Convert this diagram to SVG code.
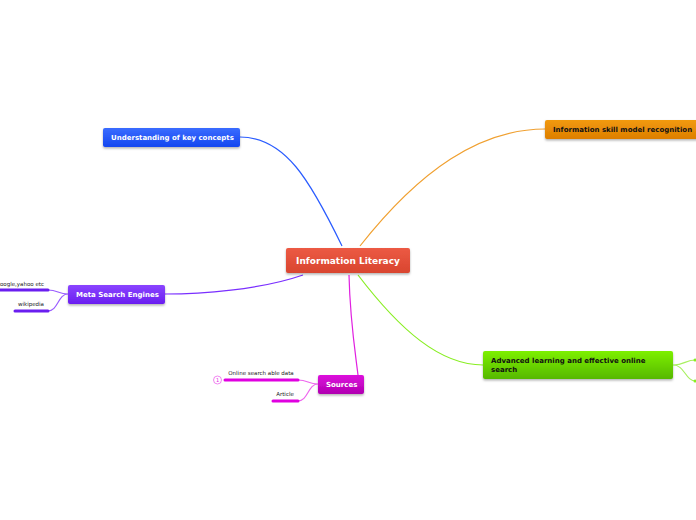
<svg xmlns="http://www.w3.org/2000/svg" width="696" height="520" viewBox="0 0 696 520">
<defs>
<linearGradient id="gRed" x1="0" y1="0" x2="0" y2="1"><stop offset="0" stop-color="#ec5a44"/><stop offset="1" stop-color="#d9452f"/></linearGradient>
<linearGradient id="gBlue" x1="0" y1="0" x2="0" y2="1"><stop offset="0" stop-color="#3a6cff"/><stop offset="1" stop-color="#1446f0"/></linearGradient>
<linearGradient id="gOrange" x1="0" y1="0" x2="0" y2="1"><stop offset="0" stop-color="#f29a10"/><stop offset="1" stop-color="#dd7e00"/></linearGradient>
<linearGradient id="gPurple" x1="0" y1="0" x2="0" y2="1"><stop offset="0" stop-color="#8a44ff"/><stop offset="1" stop-color="#6a1ef0"/></linearGradient>
<linearGradient id="gMag" x1="0" y1="0" x2="0" y2="1"><stop offset="0" stop-color="#dd10dd"/><stop offset="1" stop-color="#b000b0"/></linearGradient>
<linearGradient id="gGreen" x1="0" y1="0" x2="0" y2="1"><stop offset="0" stop-color="#7df000"/><stop offset="1" stop-color="#56b800"/></linearGradient>
<filter id="sh" x="-10%" y="-20%" width="120%" height="160%"><feDropShadow dx="0" dy="1.5" stdDeviation="1" flood-color="#000" flood-opacity="0.3"/></filter>
</defs>
<style>
.t{font-family:"DejaVu Sans",Verdana,sans-serif;font-weight:bold;font-size:7px}
.w{fill:#fff}
.k{fill:#111}
.s{font-family:"DejaVu Sans",Verdana,sans-serif;font-size:5.5px;fill:#222}
.c{fill:none;stroke-width:1.2}
</style>
<rect width="696" height="520" fill="#fff"/>
<g id="connectors">
<path class="c" stroke="#2a5cff" d="M342,246 C310,180 285,137 240,137"/>
<path class="c" stroke="#f0a030" d="M360,246 C420,170 480,129 545,129"/>
<path class="c" stroke="#7a2fff" d="M303,275 C260,290 200,294 165,294"/>
<path class="c" stroke="#e020e0" d="M349,275 C350,320 355,350 358,375"/>
<path class="c" stroke="#88ee22" d="M358,275 C400,330 440,365 483,365"/>
<path class="c" stroke="#9a5cff" d="M68,294 C58,294 58,290 48,290 M68,294 C58,294 58,311 48,311"/>
<path class="c" stroke="#ee66ee" d="M318,384 C308,384 308,380 298,380 M318,384 C308,384 308,401 298,401"/>
<path class="c" stroke="#a8f060" d="M673,365 C685,365 685,360 696,360 M673,365 C685,365 685,381 696,381"/>
</g>
<g id="central">
<rect x="286" y="248" width="124" height="25" rx="2" fill="url(#gRed)" filter="url(#sh)"/>
<text class="t w" x="348" y="264" text-anchor="middle" style="font-size:9px">Information Literacy</text>
</g>
<g id="understanding">
<rect x="103" y="128" width="137" height="19" rx="2" fill="url(#gBlue)" filter="url(#sh)"/>
<text class="t w" x="111" y="140">Understanding of key concepts</text>
</g>
<g id="infoskill">
<rect x="545" y="120" width="160" height="19" rx="2" fill="url(#gOrange)" filter="url(#sh)"/>
<text class="t k" x="553" y="132">Information skill model recognition</text>
</g>
<g id="meta">
<rect x="68" y="285" width="97" height="19" rx="2" fill="url(#gPurple)" filter="url(#sh)"/>
<text class="t w" x="76" y="297">Meta Search Engines</text>
</g>
<g id="google">
<line x1="0" y1="290" x2="48" y2="290" stroke="#6a1ef0" stroke-width="3" stroke-linecap="round"/>
<text class="s" x="44" y="286" text-anchor="end">Google,yahoo etc</text>
</g>
<g id="wikipedia">
<line x1="15" y1="311" x2="48" y2="311" stroke="#6a1ef0" stroke-width="3" stroke-linecap="round"/>
<text class="s" x="31" y="306" text-anchor="middle">wikipedia</text>
</g>
<g id="sources">
<rect x="318" y="375" width="46" height="19" rx="2" fill="url(#gMag)" filter="url(#sh)"/>
<text class="t w" x="326" y="387">Sources</text>
</g>
<g id="online">
<line x1="225" y1="380" x2="298" y2="380" stroke="#e000e0" stroke-width="3" stroke-linecap="round"/>
<text class="s" x="261" y="375" text-anchor="middle">Online search able data</text>
<circle cx="217.5" cy="380" r="4" fill="#fff" stroke="#ee66ee" stroke-width="0.8"/>
<text class="s" x="217.5" y="382" text-anchor="middle" style="font-size:5px;fill:#e020e0">1</text>
</g>
<g id="article">
<line x1="273" y1="401" x2="298" y2="401" stroke="#e000e0" stroke-width="3" stroke-linecap="round"/>
<text class="s" x="285" y="396" text-anchor="middle">Article</text>
</g>
<g id="advanced">
<rect x="483" y="351" width="190" height="28" rx="2" fill="url(#gGreen)" filter="url(#sh)"/>
<text class="t k" x="491" y="363">Advanced learning and effective online</text>
<text class="t k" x="491" y="372">search</text>
</g>
<g id="adv-children">
<circle cx="695" cy="360" r="1.5" fill="#88ee22"/>
<circle cx="695" cy="381" r="1.5" fill="#88ee22"/>
</g>
</svg>
